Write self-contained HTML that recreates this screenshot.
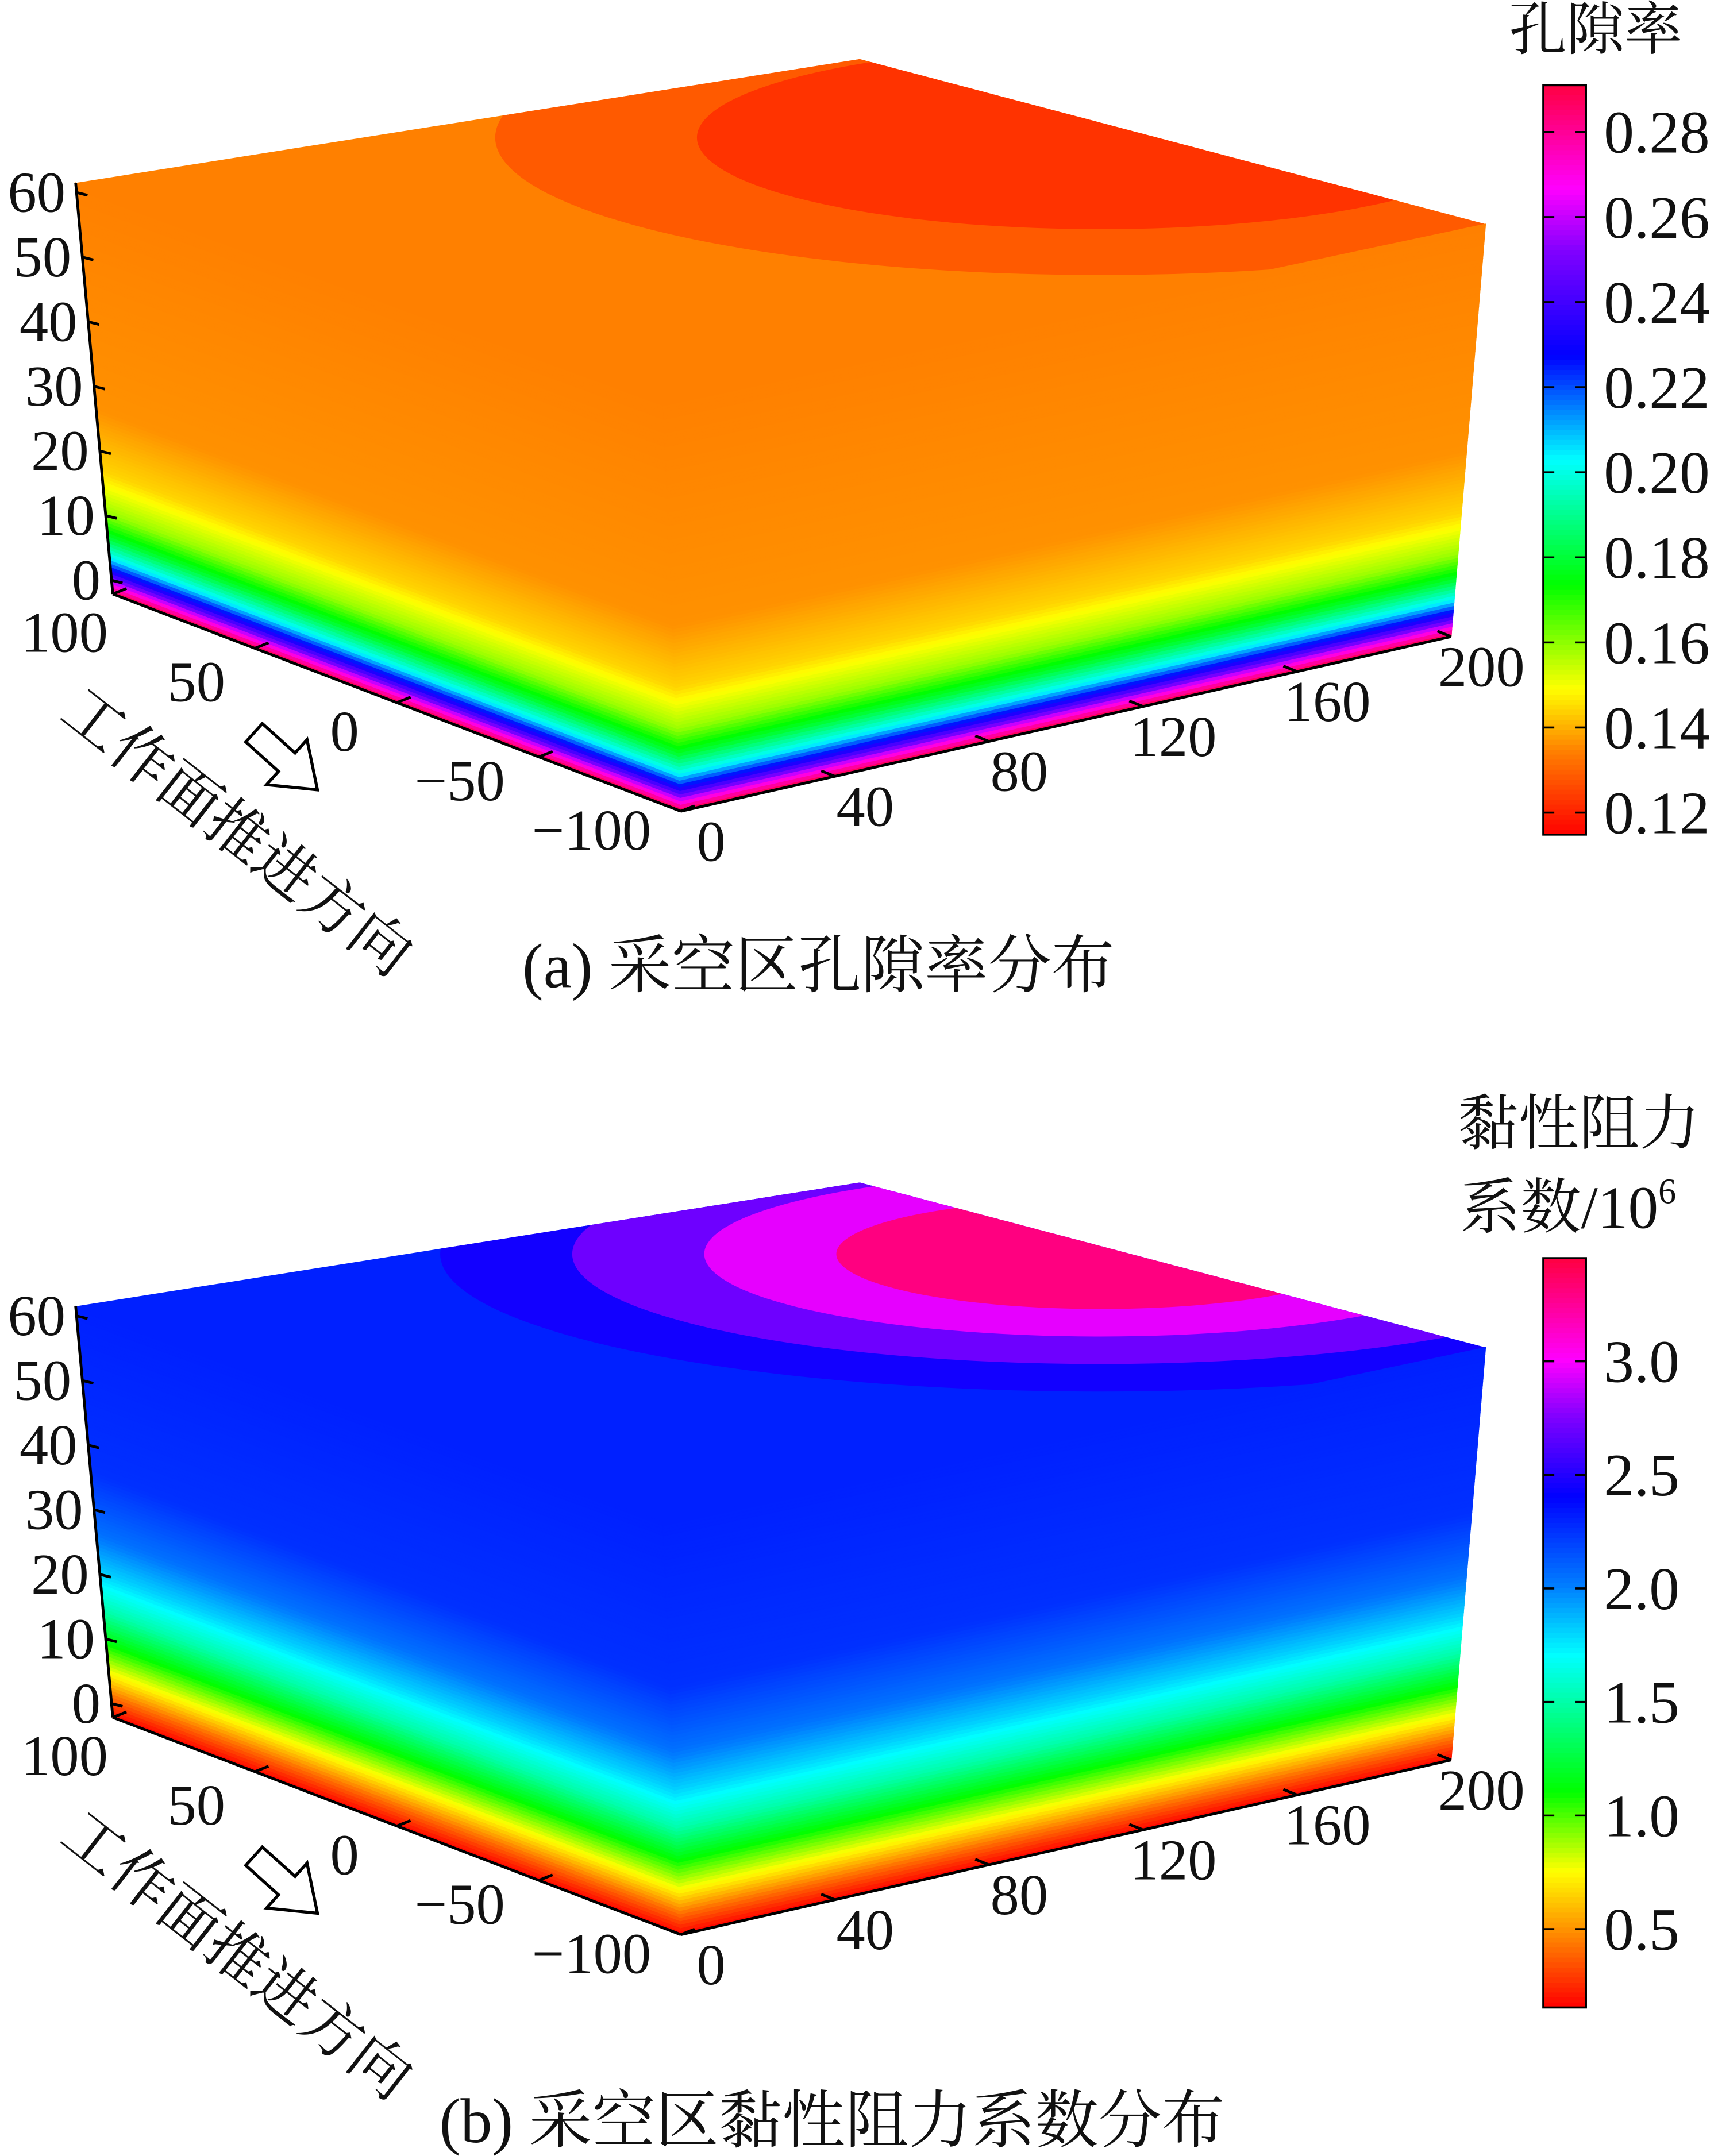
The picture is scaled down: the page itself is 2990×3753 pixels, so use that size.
<!DOCTYPE html>
<html><head><meta charset="utf-8"><style>
html,body{margin:0;padding:0;background:#fff}
svg{display:block}
</style></head><body>
<svg id="chart" width="2990" height="3753" viewBox="0 0 1249 1568" preserveAspectRatio="none" xmlns="http://www.w3.org/2000/svg" font-family="'Liberation Serif', 'Noto Serif CJK SC', serif"></svg>
<script>
// ---- data ----
const zTicks = [0,10,20,30,40,50,60];
const yTicks = [100,50,0,-50,-100];
const xTicks = [0,40,80,120,160,200];
const cbTicksA = [0.12,0.14,0.16,0.18,0.20,0.22,0.24,0.26,0.28];
const cbTicksB = [0.5,1.0,1.5,2.0,2.5,3.0];
// side-face profiles: relative height (0 bottom..1 top) vs value
const profHA = [0,0.02,0.04,0.06,0.09,0.14,0.2,0.3,0.45,1];
const profVA = [0.29,0.27,0.245,0.225,0.2,0.175,0.155,0.14,0.132,0.13];
const profHB = [0,0.05,0.1,0.18,0.26,0.35,0.45,0.6,1];
const profVB = [0.15,0.4,0.7,1.1,1.5,1.8,2.05,2.25,2.3];
// top-face contour levels (values of nested ellipses)
const topLevelsA = [0.13,0.124,0.118];
const topLevelsB = [2.3,2.45,2.7,2.95,3.3];

const cmapA = [[0.11,[255,0,0]],[0.13,[255,128,0]],[0.145,[255,255,0]],[0.17,[0,255,0]],[0.20,[0,255,255]],[0.225,[0,0,255]],[0.25,[128,0,255]],[0.265,[255,0,255]],[0.29,[255,0,64]]];
const cmapB = [[0.15,[255,0,0]],[0.45,[255,128,0]],[0.75,[255,255,0]],[1.1,[0,255,0]],[1.7,[0,255,255]],[2.0,[0,128,255]],[2.4,[0,0,255]],[2.75,[128,0,255]],[3.0,[255,0,255]],[3.45,[255,0,64]]];

const NS="http://www.w3.org/2000/svg";
const FONT="'Liberation Serif', 'Noto Serif CJK SC', 'Noto Sans CJK SC', serif";
const svg=document.getElementById('chart');
function el(tag,attrs,parent){const e=document.createElementNS(NS,tag);for(const k in attrs)e.setAttribute(k,attrs[k]);if(tag==='text'){e.setAttribute('font-family',FONT);e.setAttribute('fill','#111');}(parent||svg).appendChild(e);return e;}
function cmap(stops,v){
  if(v<=stops[0][0])return rgb(stops[0][1]);
  for(let i=1;i<stops.length;i++){if(v<=stops[i][0]){const t=(v-stops[i-1][0])/(stops[i][0]-stops[i-1][0]);const a=stops[i-1][1],b=stops[i][1];return rgb(a.map((x,j)=>x+(b[j]-x)*t));}}
  return rgb(stops[stops.length-1][1]);
}
function rgb(c){return 'rgb('+c.map(x=>Math.round(x)).join(',')+')';}
function interp(hs,vs,h){for(let i=1;i<hs.length;i++){if(h<=hs[i]){const t=(h-hs[i-1])/(hs[i]-hs[i-1]);return vs[i-1]+(vs[i]-vs[i-1])*t;}}return vs[vs.length-1];}
function lerp(p,q,t){return [p[0]+(q[0]-p[0])*t,p[1]+(q[1]-p[1])*t];}

function panel(id,dy,stops,ph,pv,topLv,cbTicks,cbMin,cbMax,cbYTop,cbYBot,tickYFirst,tickYLast,ell){
  const g=el('g',{});
  const P=(x,y)=>[x,y+dy];
  const TL=P(55,133),BK=P(625,43),TR=P(1080,163),FT=P(482,290),BL=P(82,432),FB=P(495,590),BR=P(1055,463);
  const topG=el('g',{},g);
  const cp=el('clipPath',{id:'clip'+id},g);
  el('polygon',{points:[TL,BK,TR,FT].map(p=>p.join(',')).join(' ')},cp);
  el('polygon',{points:[TL,BK,TR,FT].map(p=>p.join(',')).join(' '),fill:cmap(stops,topLv[0])},topG);
  const cg=el('g',{'clip-path':'url(#clip'+id+')'},topG);
  for(let i=1;i<topLv.length;i++){
    const f=1-(i-1)/topLv.length;
    const e=el('ellipse',{cx:ell[0],cy:ell[1]+dy,rx:ell[2]*f,ry:ell[3]*f,fill:cmap(stops,topLv[i])},cg);
    
    
  }
  const N=120;
  [[BL,FB,TL,FT,'left-face'],[FB,BR,FT,TR,'right-face']].forEach(([b1,b2,t1,t2,nm])=>{
    const fg=el('g',{},g);
    for(let k=0;k<N;k++){
      const h0=k/N,h1=(k+1)/N;
      const a=lerp(b1,t1,h0),b=lerp(b2,t2,h0),c=lerp(b2,t2,h1),d=lerp(b1,t1,h1);
      const col=cmap(stops,interp(ph,pv,(h0+h1)/2));
      const p=el('polygon',{points:[a,b,c,d].map(q=>q.map(v=>v.toFixed(2)).join(',')).join(' '),fill:col,stroke:col,'stroke-width':0.6},fg);
      
      
    }
  });
  const ax=el('g',{},g);
  el('line',{x1:TL[0],y1:TL[1],x2:BL[0],y2:BL[1],stroke:'#000','stroke-width':2},ax);
  el('line',{x1:BL[0],y1:BL[1],x2:FB[0],y2:FB[1],stroke:'#000','stroke-width':2},ax);
  el('line',{x1:FB[0],y1:FB[1],x2:BR[0],y2:BR[1],stroke:'#000','stroke-width':2},ax);
  zTicks.forEach(z=>{
    const y=422-(z/60)*282+dy;const t=(y-TL[1])/(BL[1]-TL[1]);const x=TL[0]+(BL[0]-TL[0])*t;
    el('line',{x1:x,y1:y,x2:x+8,y2:y+2,stroke:'#000','stroke-width':2},ax);
    const tx=el('text',{x:x-8,y:y+14,'font-size':42,'text-anchor':'end'},ax);tx.textContent=z;
    
  });
  yTicks.forEach(v=>{
    const t=(100-v)/200;const p=lerp(BL,FB,t);
    el('line',{x1:p[0],y1:p[1],x2:p[0]+10,y2:p[1]-4,stroke:'#000','stroke-width':2},ax);
    const tx=el('text',{x:p[0]-35-30*t+(v===0?12:0),y:p[1]+42-14*t,'font-size':42,'text-anchor':'middle'},ax);tx.textContent=v<0?'\u2212'+(-v):v;
    
  });
  xTicks.forEach(v=>{
    const t=v/200;const p=lerp(FB,BR,t);
    el('line',{x1:p[0],y1:p[1],x2:p[0]-10,y2:p[1]-4,stroke:'#000','stroke-width':2},ax);
    const tx=el('text',{x:p[0]+22,y:p[1]+36,'font-size':42,'text-anchor':'middle'},ax);tx.textContent=v;
    
  });
  const ar=el('polygon',{points:'-30,-9 2,-9 2,-22 32,0 2,22 2,9 -30,9',fill:'#fff',stroke:'#000','stroke-width':2.2,transform:`translate(207,${553+dy}) rotate(42)`},g);
  
  const dl=el('text',{x:0,y:0,'font-size':44,transform:`translate(42,${522+dy}) rotate(38)`},g);
  dl.textContent='工作面推进方向';
  
  const cb=el('g',{},g);
  const M=150;
  for(let k=0;k<M;k++){
    const y0=cbYTop+(cbYBot-cbYTop)*k/M, y1=cbYTop+(cbYBot-cbYTop)*(k+1)/M;
    const v=cbMax-(cbMax-cbMin)*(k+0.5)/M;
    el('rect',{x:1122,y:y0+dy,width:31,height:y1-y0+0.6,fill:cmap(stops,v)},cb);
  }
  el('rect',{x:1122,y:cbYTop+dy,width:31,height:cbYBot-cbYTop,fill:'none',stroke:'#000','stroke-width':1.5},cb);
  cbTicks.forEach((v,i)=>{
    const y=tickYFirst+(tickYLast-tickYFirst)*(v-cbTicks[0])/(cbTicks[cbTicks.length-1]-cbTicks[0])+dy;
    el('line',{x1:1122,y1:y,x2:1130,y2:y,stroke:'#000','stroke-width':1.5},cb);
    el('line',{x1:1145,y1:y,x2:1153,y2:y,stroke:'#000','stroke-width':1.5},cb);
    const tx=el('text',{x:1166,y:y+15,'font-size':44},cb);tx.textContent=v.toFixed(id==='a'?2:1);
    
  });
  return g;
}
panel('a',0,cmapA,profHA,profVA,topLevelsA,cbTicksA,0.11,0.29,62,607,591,96,[800,100,440,100]);
panel('b',817,cmapB,profHB,profVB,topLevelsB,cbTicksB,0.15,3.45,98,643,586,173,[800,95,480,100]);

function txt(s,x,y,fs,name,anchor){const t=el('text',{x:x,y:y,'font-size':fs,'text-anchor':anchor||'start'});t.textContent=s;return t;}
txt('孔隙率',1160,36,42,'colorbar-a-title','middle');
txt('(a)  采空区孔隙率分布',595,718,46,'caption-a','middle');
txt('黏性阻力',1148,832,44,'colorbar-b-title-line1','middle');
const t2=txt('系数/10',1140,893,44,'colorbar-b-title-line2','middle');
const sup=el('tspan',{'font-size':26,dy:-18});sup.textContent='6';t2.appendChild(sup);
txt('(b)  采空区黏性阻力系数分布',605,1558,46,'caption-b','middle');
</script>
</body></html>
